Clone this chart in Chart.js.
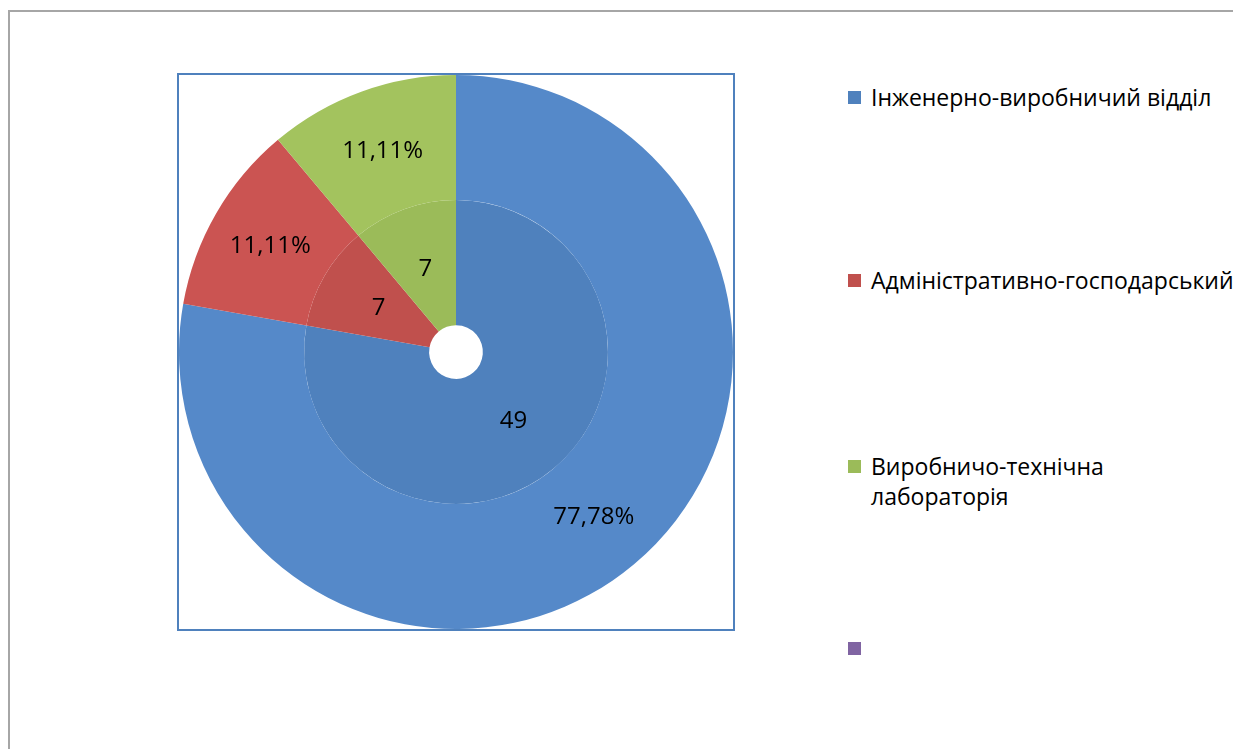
<!DOCTYPE html>
<html>
<head>
<meta charset="utf-8">
<script src="https://cdn.jsdelivr.net/npm/chart.js@4/dist/chart.umd.min.js"></script>
<style>
  html, body { margin: 0; padding: 0; background: #fff; width: 1233px; height: 749px; overflow: hidden; }
  #frame { position: absolute; left: 8px; top: 10px; width: 1400px; height: 900px; border-left: 2px solid #a6a6a6; border-top: 2px solid #a6a6a6; }
  #box { position: absolute; left: 177px; top: 73px; width: 558px; height: 558px; box-sizing: border-box; border: 2px solid #4f81bd; }
  #box canvas { display: block; }
  .leg { position: absolute; left: 848px; font-family: "Open Sans", sans-serif; font-size: 23px; line-height: 30px; color: #000; white-space: nowrap; }
  .leg .sw { position: absolute; left: 0; top: 9px; width: 13px; height: 13px; }
  .leg .tx { position: absolute; left: 23px; top: 0; }
</style>
</head>
<body>
<div id="frame"></div>
<div id="box"><canvas id="c" width="554" height="554"></canvas></div>
<div id="legend"></div>
<script>
const categories = ["Інженерно-виробничий відділ", "Адміністративно-господарський", "Виробничо-технічна\nлабораторія", ""];
const outerPercents = [77.78, 11.11, 11.11, 0];
const innerValues = [49, 7, 7, 0];
const outerColors = ["#5589c9", "#cb5452", "#a3c35e", "#8064a2"];
const innerColors = ["#4f81bd", "#c0504d", "#9bbb59", "#8064a2"];
const legendColors = ["#4f81bd", "#c0504d", "#9bbb59", "#8064a2"];
const legendTops = [82, 265, 451, 633];

// legend
const lg = document.getElementById('legend');
categories.forEach((name, i) => {
  const d = document.createElement('div');
  d.className = 'leg';
  d.style.top = legendTops[i] + 'px';
  const sw = document.createElement('div');
  sw.className = 'sw';
  sw.style.background = legendColors[i];
  const tx = document.createElement('div');
  tx.className = 'tx';
  tx.innerHTML = name.split('\n').join('<br>');
  d.appendChild(sw); d.appendChild(tx);
  lg.appendChild(d);
});

const labelPlugin = {
  id: 'sliceLabels',
  afterDatasetsDraw(chart) {
    const ctx = chart.ctx;
    ctx.save();
    ctx.font = '24px "Open Sans", sans-serif';
    ctx.fillStyle = '#000';
    ctx.textAlign = 'center';
    ctx.textBaseline = 'middle';
    chart.data.datasets.forEach((ds, di) => {
      const meta = chart.getDatasetMeta(di);
      meta.data.forEach((arc, i) => {
        const v = ds.data[i];
        if (!v) return;
        const p = arc.tooltipPosition();
        const txt = di === 0 ? v.toFixed(2).replace('.', ',') + '%' : String(v);
        ctx.fillText(txt, p.x, p.y + 1);
      });
    });
    ctx.restore();
  }
};

new Chart(document.getElementById('c'), {
  type: 'doughnut',
  data: {
    labels: categories,
    datasets: [
      { data: outerPercents, backgroundColor: outerColors, borderWidth: 0 },
      { data: innerValues, backgroundColor: innerColors, borderWidth: 0 }
    ]
  },
  options: {
    responsive: false,
    animation: false,
    cutout: '9.7%',
    layout: { padding: 0 },
    plugins: { legend: { display: false }, tooltip: { enabled: false } }
  },
  plugins: [labelPlugin]
});
</script>
</body>
</html>
